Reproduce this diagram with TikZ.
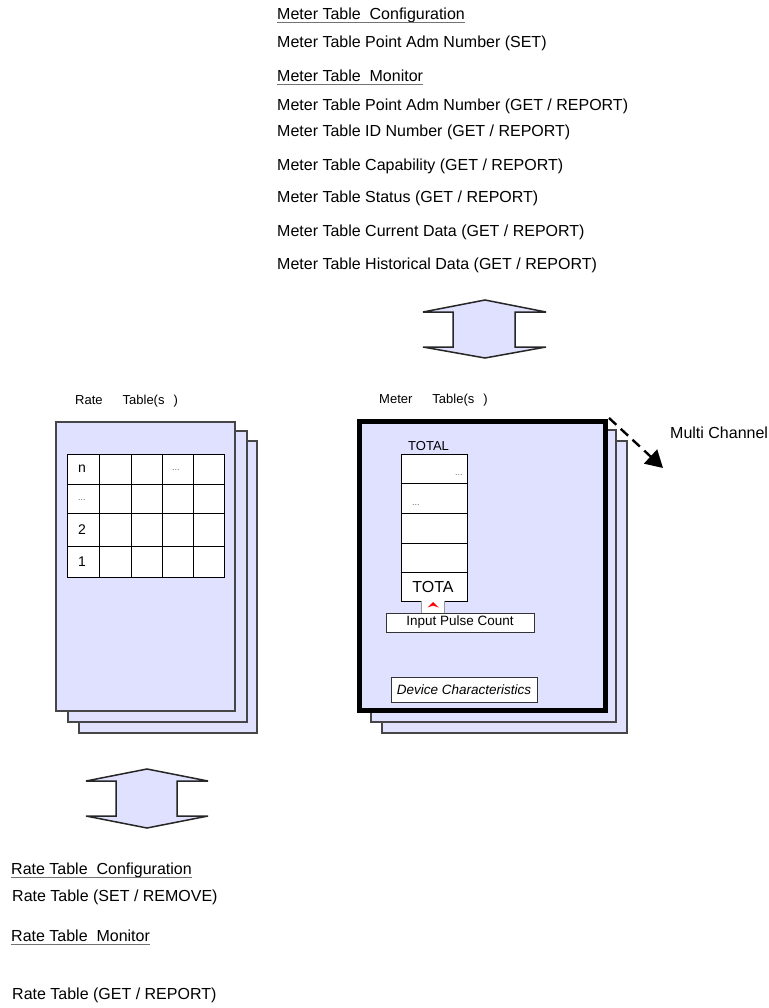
\documentclass[tikz,border=0pt]{standalone}
\usepackage{fontspec}
\setmainfont{Liberation Sans}
\usepackage{tikz}
\usetikzlibrary{positioning}
\usetikzlibrary{arrows.meta}

\definecolor{pagefill}{RGB}{224,224,255}
\definecolor{pageline}{RGB}{70,70,70}

\tikzset{
  page/.style={draw=pageline, fill=pagefill, line width=1.2pt},
  dblarrow/.style={draw=black!85, fill=pagefill, line width=1.5pt, line join=miter},
  item/.style={anchor=west, inner sep=0pt, font=\fontsize{16}{18}\selectfont},
  uline/.style={draw=black!55, line width=1.2pt},
  lbl/.style={anchor=west, inner sep=0pt, font=\fontsize{13}{15}\selectfont},
  cell/.style={anchor=west, inner sep=0pt, font=\fontsize{14}{16}\selectfont},
  dots/.style={anchor=west, inner sep=0pt, text=black!60, font=\fontsize{9}{10}\selectfont},
  tbl/.style={draw=black, line width=1pt},
  smallbox/.style={draw=black!80, fill=white, line width=1pt, inner sep=0pt,
    font=\fontsize{13.5}{15}\selectfont},
}

\begin{document}
\begin{tikzpicture}[x=1pt,y=-1pt]
  \useasboundingbox (0,0) rectangle (768,1008);

  % meter table services
  \node[item] (mcfg) at (277,15) {Meter Table\ \ Configuration};
  \draw[uline] ([yshift=-3pt]mcfg.base west) -- ([yshift=-3pt]mcfg.base east);
  \node[item] (mset) at (277,43) {Meter Table Point Adm Number (SET)};
  \node[item] (mmon) at (277,76) {Meter Table\ \ Monitor};
  \draw[uline] ([yshift=-3pt]mmon.base west) -- ([yshift=-3pt]mmon.base east);
  \node[item] (madm) at (277,106) {Meter Table Point Adm Number (GET / REPORT)};
  \node[item] (mid) at (277,132) {Meter Table ID Number (GET / REPORT)};
  \node[item] (mcap) at (277,166) {Meter Table Capability (GET / REPORT)};
  \node[item] (mstat) at (277,198) {Meter Table Status (GET / REPORT)};
  \node[item] (mcur) at (277,232) {Meter Table Current Data (GET / REPORT)};
  \node[item] (mhist) at (277,265) {Meter Table Historical Data (GET / REPORT)};

  \draw[dblarrow] (485,300) -- (546,312) -- (515,312) -- (515,347) -- (546,347)
    -- (485,358) -- (423,347) -- (453,347) -- (453,312) -- (423,312) -- cycle;

  % rate tables
  \node[lbl] (rlbl) at (75,401) {Rate\hspace{20pt}Table(s\hspace{9pt})};
  \draw[page] (79,441) rectangle (257,733);
  \draw[page] (68,431) rectangle (247,722);
  \draw[page] (56,422) rectangle (235,711);
  \draw[tbl, fill=white] (67,454) rectangle (224,577);
  \foreach \x in {99,131,162,193}
    \draw[tbl] (\x,454) -- (\x,577);
  \foreach \y in {484,513,546}
    \draw[tbl] (67,\y) -- (224,\y);
  \node[cell] (rn) at (78,469) {n};
  \node[dots] (rnd) at (172,470) {...};
  \node[dots] (rd) at (78,500) {...};
  \node[cell] (r2) at (78,529.5) {2};
  \node[cell] (r1) at (78,561.5) {1};

  % meter tables
  \node[lbl] (mlbl) at (379,400) {Meter\hspace{20pt}Table(s\hspace{9pt})};
  \draw[page] (382,441) rectangle (627,733);
  \draw[page] (371,430) rectangle (616,722);
  \draw[page, draw=black, line width=5pt] (359.5,421.5) rectangle (605.5,710.5);

  \node[lbl] (total) at (408,446) {TOTAL};
  \draw[tbl, fill=white] (421,601) -- (401,601) -- (401,454) -- (467,454)
    -- (467,601) -- (444,601);
  \foreach \y in {483,513,543,572}
    \draw[tbl] (401,\y) -- (467,\y);
  \node[dots] (t1) at (455,475) {...};
  \node[dots] (t2) at (412,505) {...};
  \node[inner sep=0pt, font=\fontsize{16}{18}\selectfont] (tota) at (433,587) {TOTA};
  \fill[white] (421,600) rectangle (444,613);
  \draw[black!40, line width=1pt] (421,601) -- (421,613) (444,601) -- (444,613);
  \fill[red] (427.5,607.5) -- (433,602) -- (438.5,607.5) -- (433,605.5) -- cycle;

  \node[smallbox, minimum width=148pt, minimum height=19pt] (pulse) at (460,622.5)
    {Input Pulse Count};
  \node[smallbox, minimum width=146pt, minimum height=25pt] (dev) at (464,689.5)
    {\itshape Device Characteristics};

  \coordinate (chan) at (609,418);
  \node[item] (multi) at (670,433) {Multi Channel};
  \draw[line width=2.4pt, dash pattern=on 10pt off 6pt,
    -{Triangle[length=17pt,width=19pt]}] (chan) -- (663,468);

  \draw[dblarrow] (147,769) -- (208,781) -- (177,781) -- (177,816) -- (208,816)
    -- (147,828) -- (86,816) -- (116,816) -- (116,781) -- (86,781) -- cycle;

  % rate table services
  \node[item] (rcfg) at (11,870) {Rate Table\ \ Configuration};
  \draw[uline] ([yshift=-3pt]rcfg.base west) -- ([yshift=-3pt]rcfg.base east);
  \node[item] (rset) at (12,897) {Rate Table (SET / REMOVE)};
  \node[item] (rmon) at (11,936) {Rate Table\ \ Monitor};
  \draw[uline] ([yshift=-3pt]rmon.base west) -- ([yshift=-3pt]rmon.base east);
  \node[item] (rget) at (12,995) {Rate Table (GET / REPORT)};
\end{tikzpicture}
\end{document}
